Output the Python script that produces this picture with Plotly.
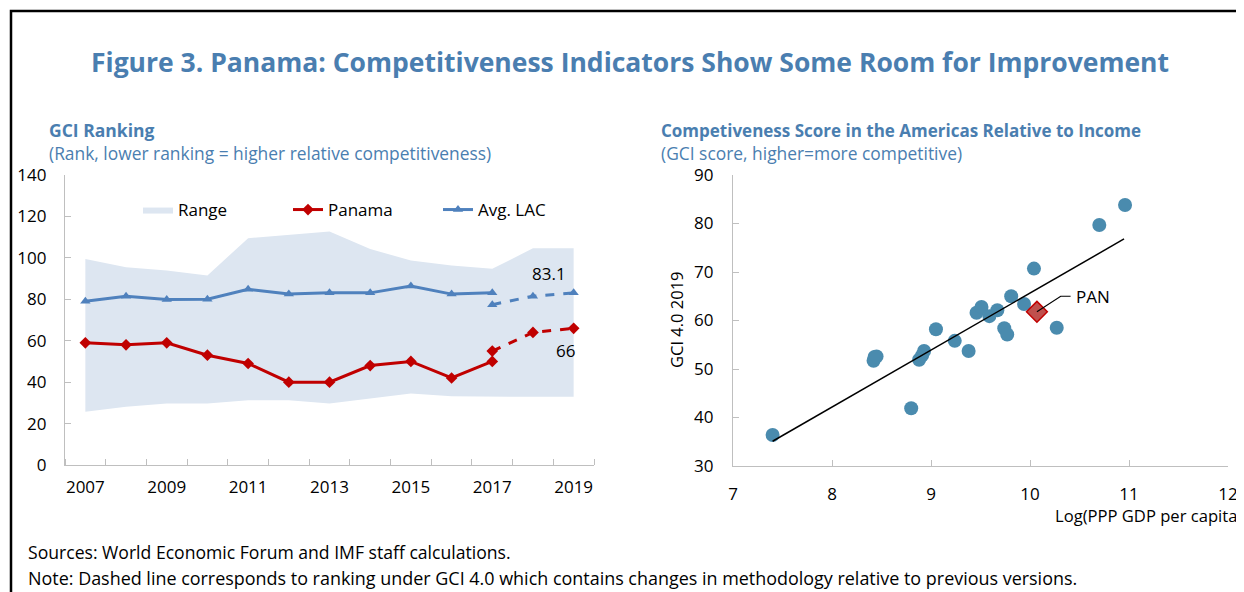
import plotly.graph_objects as go
import numpy as np

# ---------------- data: left panel (GCI ranking) ----------------
years = list(range(2007, 2020))
range_low = [25.7, 28.1, 29.7, 29.7, 31.3, 31.3, 29.7, 32.1, 34.5, 33.2, 32.9, 32.9, 32.9]
range_high = [99.5, 95.5, 93.9, 91.5, 109.5, 111.0, 112.7, 104.3, 98.7, 96.3, 94.7, 104.6, 104.6]
old_years = list(range(2007, 2018))
panama_old = [59, 58, 59, 53, 49, 40, 40, 48, 50, 42, 50]
lac_old = [79.1, 81.5, 79.9, 80.0, 84.8, 82.5, 83.1, 83.1, 86.4, 82.5, 83.1]
new_years = [2017, 2018, 2019]
panama_new = [55, 64, 66]
lac_new = [77.4, 81.5, 83.1]
odd_year_ticks = [2007, 2009, 2011, 2013, 2015, 2017, 2019]

# ---------------- data: right panel (score vs income) ----------------
log_gdp = [7.40, 8.43, 8.42, 8.45, 8.80, 8.88, 8.91, 8.93, 9.05, 9.24, 9.38,
           9.46, 9.51, 9.59, 9.67, 9.74, 9.77, 9.81, 9.94, 10.04, 10.27, 10.70, 10.96]
gci_score = [36.4, 52.5, 51.7, 52.6, 41.9, 51.9, 52.8, 53.7, 58.2, 55.8, 53.7,
             61.6, 62.8, 60.9, 62.1, 58.4, 57.1, 65.0, 63.4, 70.7, 58.5, 79.7, 83.8]
pan_log_gdp = 10.07
pan_score = 61.8
# fitted line as drawn in the source (slope, intercept, x extent)
trend_slope = 11.75
trend_intercept = -51.85
trend_x = [7.40, 10.95]

RED = "#c00000"
BLUE = "#4f81bd"
TITLE_BLUE = "#4a7eb0"
DOT = "#4a8bae"
AXIS = "#bfbfbf"
FONT = "Open Sans"

fig = go.Figure()

# Range band
fig.add_trace(go.Scatter(x=years, y=range_low, mode="lines", line=dict(width=0),
                         showlegend=False, hoverinfo="skip", xaxis="x", yaxis="y"))
fig.add_trace(go.Scatter(x=years, y=range_high, mode="lines", line=dict(width=0),
                         fill="tonexty", fillcolor="#dde6f1", name="Range",
                         xaxis="x", yaxis="y"))
# Panama
fig.add_trace(go.Scatter(x=old_years, y=panama_old, mode="lines+markers", name="Panama",
                         line=dict(color=RED, width=3),
                         marker=dict(symbol="diamond", size=9, color=RED),
                         xaxis="x", yaxis="y"))
fig.add_trace(go.Scatter(x=new_years, y=panama_new, mode="lines+markers", showlegend=False,
                         line=dict(color=RED, width=3, dash="dash"),
                         marker=dict(symbol="diamond", size=9, color=RED),
                         xaxis="x", yaxis="y"))
# Avg LAC
fig.add_trace(go.Scatter(x=old_years, y=lac_old, mode="lines+markers", name="Avg. LAC",
                         line=dict(color=BLUE, width=3),
                         marker=dict(symbol="triangle-up", size=9, color=BLUE),
                         xaxis="x", yaxis="y"))
fig.add_trace(go.Scatter(x=new_years, y=lac_new, mode="lines+markers", showlegend=False,
                         line=dict(color=BLUE, width=3, dash="dash"),
                         marker=dict(symbol="triangle-up", size=9, color=BLUE),
                         xaxis="x", yaxis="y"))

# Right panel: scatter + fit
fig.add_trace(go.Scatter(x=log_gdp, y=gci_score, mode="markers", showlegend=False,
                         marker=dict(size=14, color=DOT), xaxis="x2", yaxis="y2"))
tx = np.array(trend_x)
fig.add_trace(go.Scatter(x=tx, y=trend_slope * tx + trend_intercept, mode="lines", showlegend=False,
                         line=dict(color="black", width=1.5), xaxis="x2", yaxis="y2"))
fig.add_trace(go.Scatter(x=[pan_log_gdp], y=[pan_score], mode="markers", showlegend=False,
                         marker=dict(symbol="diamond", size=16, color="#c0504d",
                                     line=dict(color=RED, width=1.5)),
                         xaxis="x2", yaxis="y2"))
# leader line for PAN label
fig.add_trace(go.Scatter(x=[pan_log_gdp, pan_log_gdp + 0.24, pan_log_gdp + 0.34],
                         y=[pan_score, pan_score + 3.2, pan_score + 3.2],
                         mode="lines", showlegend=False,
                         line=dict(color="black", width=1.2), xaxis="x2", yaxis="y2"))

# figure is placed at an 8px page offset; positions below are given in screen px
W, H = 1244, 592
OFF = 8
def px(sx):
    return (sx - OFF) / W
def py(sy):
    return 1 - (sy - OFF) / H

axis_common = dict(showgrid=False, zeroline=False, showline=True, linecolor=AXIS,
                   linewidth=1.3, tickcolor=AXIS, tickwidth=1.3, automargin=False,
                   tickfont=dict(size=17, color="black", family=FONT))

fig.update_layout(
    width=W, height=H,
    margin=dict(l=0, r=0, t=0, b=0, autoexpand=False),
    paper_bgcolor="white", plot_bgcolor="white",
    font=dict(family=FONT, color="black"),
    xaxis=dict(domain=[px(65), px(594)], range=[2006.5, 2019.5],
               tickvals=odd_year_ticks, ticks="", anchor="y", ticklabelstandoff=6,
               minor=dict(ticks="inside", ticklen=6, tick0=2006.5, dtick=1,
                          tickcolor=AXIS, tickwidth=1.3),
               **axis_common),
    yaxis=dict(domain=[py(465), py(175)], range=[0, 140], dtick=20, ticks="inside",
               ticklen=6, anchor="x", ticklabelstandoff=14, **axis_common),
    xaxis2=dict(domain=[px(733), px(1228)], range=[7, 12], dtick=1, ticks="inside",
                ticklen=6, anchor="y2", ticklabelstandoff=12, **axis_common),
    yaxis2=dict(domain=[py(466), py(175)], range=[30, 90], dtick=10, ticks="inside",
                ticklen=6, anchor="x2", ticklabelstandoff=15, **axis_common),
    legend=dict(orientation="h", x=px(138), y=py(210), xanchor="left", yanchor="middle",
                bgcolor="rgba(0,0,0,0)", font=dict(size=17, family=FONT),
                entrywidth=105, entrywidthmode="pixels", traceorder="normal"),
    showlegend=True,
)

def note(text, sx, sy, size, color="black", xanchor="left", bold=False, angle=0):
    return dict(text=f"<b>{text}</b>" if bold else text, x=px(sx), y=py(sy),
                xref="paper", yref="paper", showarrow=False, xanchor=xanchor,
                yanchor="middle", textangle=angle,
                font=dict(size=size, color=color, family=FONT))

annotations = [
    note("Figure 3. Panama: Competitiveness Indicators Show Some Room for Improvement",
         630, 62, 26.5, TITLE_BLUE, "center", bold=True),
    note("GCI Ranking", 47, 130, 17.5, TITLE_BLUE, bold=True),
    note("(Rank, lower ranking = higher relative competitiveness)", 47, 153, 17.4, TITLE_BLUE),
    note("Competiveness Score in the Americas Relative to Income", 659, 130, 17, TITLE_BLUE, bold=True),
    note("(GCI score, higher=more competitive)", 659, 153, 17.4, TITLE_BLUE),
    note("Log(PPP GDP per capita)", 1244, 515, 16.6, "black", "right"),
    note("GCI 4.0 2019", 677, 320, 16.5, "black", "center", angle=-90),
    note("Sources: World Economic Forum and IMF staff calculations.", 26, 552, 17.6),
    note("Note: Dashed line corresponds to ranking under GCI 4.0 which contains changes in methodology relative to previous versions.",
         26, 578, 17.95),
    dict(text=f"{lac_new[-1]:.1f}", x=new_years[-1] - 0.6, y=lac_new[-1] + 9.5, xref="x", yref="y",
         showarrow=False, font=dict(size=17, family=FONT)),
    dict(text=f"{panama_new[-1]}", x=new_years[-1] - 0.2, y=panama_new[-1] - 10.5, xref="x", yref="y",
         showarrow=False, font=dict(size=17, family=FONT)),
    dict(text="PAN", x=pan_log_gdp + 0.37, y=pan_score + 3.2, xref="x2", yref="y2",
         showarrow=False, xanchor="left", yanchor="middle", font=dict(size=17, family=FONT)),
]
fig.update_layout(annotations=annotations)

fig.add_shape(type="path", xref="paper", yref="paper",
              path=f"M {px(11)},-0.05 L {px(11)},{py(11)} L 1.0,{py(11)}",
              line=dict(color="black", width=2.5))

fig.write_html("out.html")
